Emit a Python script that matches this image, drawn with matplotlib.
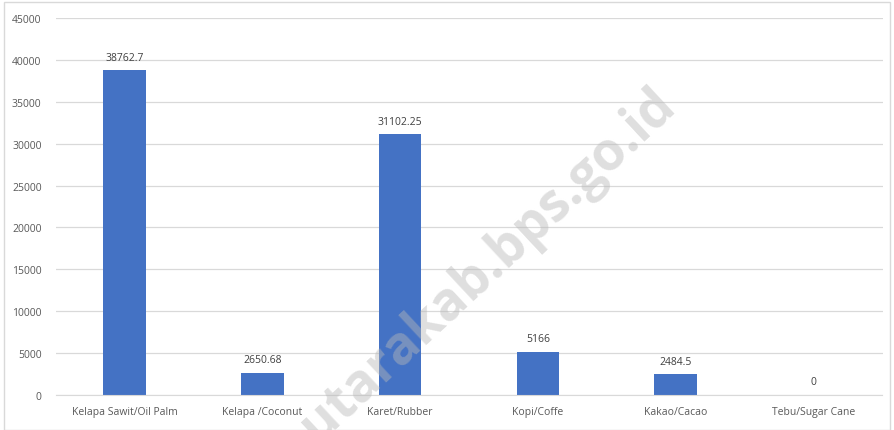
import matplotlib.pyplot as plt

categories = ['Kelapa Sawit/Oil Palm', 'Kelapa /Coconut', 'Karet/Rubber',
              'Kopi/Coffe', 'Kakao/Cacao', 'Tebu/Sugar Cane']
values = [38762.7, 2650.68, 31102.25, 5166, 2484.5, 0]
value_labels = ['38762.7', '2650.68', '31102.25', '5166', '2484.5', '0']
yticks = list(range(0, 45001, 5000))

plt.rcParams['font.family'] = ['Open Sans', 'DejaVu Sans']

fig = plt.figure(figsize=(8.94, 4.31), dpi=100)
ax = fig.add_axes([55.5 / 894, 35 / 431, 827 / 894, 377 / 431])

x = range(len(categories))
bars = ax.bar(x, values, width=0.31, color='#4472C4', zorder=2)
for xi, v, lab in zip(x, values, value_labels):
    ax.text(xi, v + 900, lab, ha='center', va='bottom', fontsize=7.5, color='#404040')

ax.set_xlim(-0.5, len(categories) - 0.5)
ax.set_ylim(0, 45000)
ax.set_yticks(yticks)
ax.set_yticklabels([str(t) for t in yticks], fontsize=7.5, color='#595959')
ax.set_xticks(list(x))
ax.set_xticklabels(categories, fontsize=7.5, color='#595959')
ax.tick_params(length=0, pad=8)
ax.tick_params(axis='y', pad=10)
ax.grid(axis='y', color='#d9d9d9', linewidth=0.9, zorder=0)
for s in ['top', 'right', 'left']:
    ax.spines[s].set_visible(False)
ax.spines['bottom'].set_color('#d9d9d9')

# watermark
fig.text(0.545, 0.385, 'utarakab.bps.go.id', rotation=43, fontsize=38, fontweight='bold',
         color='#b8b8b8', alpha=0.45, ha='center', va='center', zorder=5)

# outer border
border = plt.Rectangle((0.004, 0.0), 0.992, 0.993, transform=fig.transFigure,
                       fill=False, edgecolor='#d9d9d9', linewidth=1)
fig.patches.append(border)

fig.savefig('out.png', dpi=100)
